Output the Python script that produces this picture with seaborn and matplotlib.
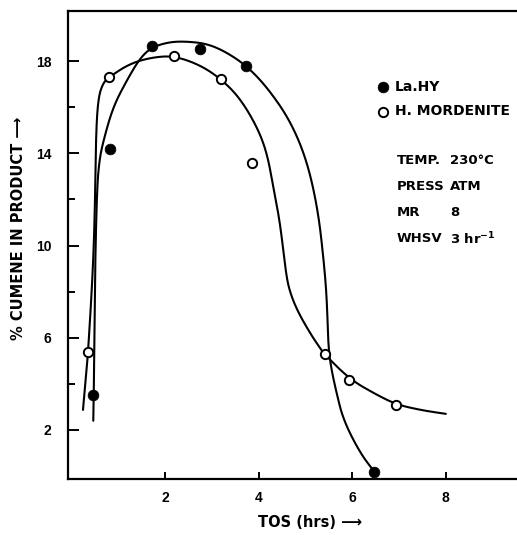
import numpy as np
import pandas as pd
import matplotlib
matplotlib.use("Agg")
import matplotlib.pyplot as plt
import seaborn as sns
from matplotlib.ticker import FixedLocator

# ---------------- data ----------------
lahy_tos = [0.47, 0.83, 1.73, 2.76, 3.74, 6.47]
lahy_cumene = [3.50, 14.2, 18.65, 18.52, 17.80, 0.18]

mord_tos = [0.36, 0.81, 2.20, 3.20, 3.85, 5.41, 5.94, 6.94]
mord_cumene = [5.38, 17.31, 18.22, 17.22, 13.6, 5.28, 4.17, 3.08]

# hand-drawn trend curves (knots)
lahy_curve_x = [0.47, 0.48, 0.49, 0.51, 0.55, 0.60, 0.68, 0.89, 1.19, 1.47, 1.72, 2.10, 2.47,
                2.90, 3.30, 3.74, 4.18, 4.67, 5.03, 5.27, 5.40, 5.46, 5.49, 5.55, 5.65,
                5.81, 6.17, 6.47]
lahy_curve_y = [2.4, 3.5, 5.5, 9.2, 12.5, 13.7, 14.5, 16.0, 17.18, 18.13, 18.6, 18.83, 18.85,
                18.75, 18.4, 17.8, 16.87, 15.44, 13.71, 11.54, 9.2, 7.64, 5.6, 4.7, 3.74,
                2.43, 1.0, 0.2]

mord_curve_x = [0.25, 0.30, 0.36, 0.47, 0.51, 0.53, 0.58, 0.68, 0.81, 1.26, 1.75, 2.20, 2.75,
                3.20, 3.60, 3.97, 4.18, 4.31, 4.44, 4.53, 4.58, 4.65, 4.82, 5.10, 5.31,
                5.41, 5.95, 6.50, 6.95, 7.50, 8.00]
mord_curve_y = [2.87, 4.0, 5.38, 9.2, 12.1, 15.0, 16.44, 17.05, 17.31, 17.9, 18.17, 18.22, 17.83,
                17.22, 16.4, 15.14, 14.01, 12.6, 11.2, 9.8, 8.9, 8.1, 7.2, 6.2, 5.56,
                5.28, 4.2, 3.55, 3.1, 2.85, 2.7]

series_labels = ["La.HY", "H. MORDENITE"]
x_ticks = [2, 4, 6, 8]
y_major_ticks = [2, 6, 10, 14, 18]
y_minor_ticks = [4, 8, 12, 16]
x_label = "TOS (hrs) \u27f6"
y_label = "% CUMENE IN PRODUCT \u27f6"
cond_names = ["TEMP.", "PRESS", "MR", "WHSV"]
cond_values = ["230\u00b0C", "ATM", "8", r"3 hr$^{\mathbf{-1}}$"]

XPX = 46.83   # pixels per x unit (smoothing done in screen-like space)
YPX = 23.06   # pixels per y unit


def chaikin(xs, ys, iterations=5):
    P = np.column_stack([np.asarray(xs) * XPX, np.asarray(ys) * YPX]).astype(float)
    for _ in range(iterations):
        Q = 0.75 * P[:-1] + 0.25 * P[1:]
        R = 0.25 * P[:-1] + 0.75 * P[1:]
        mid = np.empty((2 * len(Q), 2))
        mid[0::2] = Q
        mid[1::2] = R
        P = np.vstack([P[:1], mid, P[-1:]])
    return P[:, 0] / XPX, P[:, 1] / YPX


sns.set_theme(style="white")
plt.rcParams["font.family"] = ["DejaVu Sans"]
plt.rcParams["font.weight"] = "bold"
plt.rcParams["axes.labelweight"] = "bold"
plt.rcParams["mathtext.fontset"] = "dejavusans"
for k in ["text.color", "axes.labelcolor", "xtick.color", "ytick.color", "axes.edgecolor"]:
    plt.rcParams[k] = "black"

fig = plt.figure(figsize=(5.17, 5.35), dpi=100)
ax = fig.add_axes([68 / 517, 56 / 535, 449 / 517, 468 / 535])

lx, ly = chaikin(lahy_curve_x, lahy_curve_y)
mx, my = chaikin(mord_curve_x, mord_curve_y)
curve_lahy = pd.DataFrame({"x": lx, "y": ly})
curve_mord = pd.DataFrame({"x": mx, "y": my})
sns.lineplot(data=curve_lahy, x="x", y="y", sort=False, estimator=None, color="black",
             lw=1.5, ax=ax)
sns.lineplot(data=curve_mord, x="x", y="y", sort=False, estimator=None, color="black",
             lw=1.5, ax=ax)

df_l = pd.DataFrame({"tos": lahy_tos, "cum": lahy_cumene})
df_m = pd.DataFrame({"tos": mord_tos, "cum": mord_cumene})
sns.scatterplot(data=df_l, x="tos", y="cum", color="black", edgecolor="black", s=60,
                linewidth=0.5, label=series_labels[0], ax=ax, zorder=5)
sns.scatterplot(data=df_m, x="tos", y="cum", facecolor="white", edgecolor="black", s=45,
                linewidth=1.4, label=series_labels[1], ax=ax, zorder=5)

ax.set_xlim(-0.07, 9.52)
ax.set_ylim(-0.125, 20.17)

for s in ["left", "bottom", "top"]:
    ax.spines[s].set_color("black")
    ax.spines[s].set_linewidth(1.6)
ax.spines["right"].set_visible(False)

ax.xaxis.set_major_locator(FixedLocator(x_ticks))
ax.yaxis.set_major_locator(FixedLocator(y_major_ticks))
ax.yaxis.set_minor_locator(FixedLocator(y_minor_ticks))
ax.tick_params(axis="x", which="major", direction="in", length=5, width=1.4,
               color="black", labelcolor="black", labelsize=10, pad=9, bottom=True, top=False)
ax.tick_params(axis="y", which="major", direction="in", length=8, width=1.4,
               color="black", labelcolor="black", labelsize=10, pad=12, left=True, right=False)
ax.tick_params(axis="y", which="minor", direction="in", length=5, width=1.4,
               color="black", left=True, right=False)
for lab in ax.get_xticklabels() + ax.get_yticklabels():
    lab.set_fontweight("bold")
    lab.set_fontfamily(["Liberation Sans", "DejaVu Sans"])

ax.set_xlabel(x_label, fontsize=10.5, fontweight="bold", color="black")
ax.set_ylabel(y_label, fontsize=10.5, fontweight="bold", color="black")
ax.xaxis.set_label_coords((310 - 68) / 449, -(515 - 479) / 468)
ax.yaxis.set_label_coords(-(68 - 26) / 449, (479 - 228) / 468)

leg = ax.legend(loc="upper left", bbox_to_anchor=((378 - 68) / 449, (479 - 80) / 468),
                frameon=False, borderpad=0, borderaxespad=0, handlelength=0.7,
                handletextpad=0.5, labelspacing=0.75, prop={"size": 10, "weight": "bold"})
for t in leg.get_texts():
    t.set_color("black")

name_x = (397 - 71.3) / XPX
val_x = (450 - 71.3) / XPX
for i, (nm, vl) in enumerate(zip(cond_names, cond_values)):
    py = 160 + i * 26.3
    yv = (479 - py) / YPX - 0.125
    ax.text(name_x, yv, nm, fontsize=9.5, fontweight="bold", va="center", ha="left",
            color="black")
    ax.text(val_x, yv, vl, fontsize=9.5, fontweight="bold", va="center", ha="left",
            color="black")

fig.savefig("out.png", dpi=100, facecolor="white")
